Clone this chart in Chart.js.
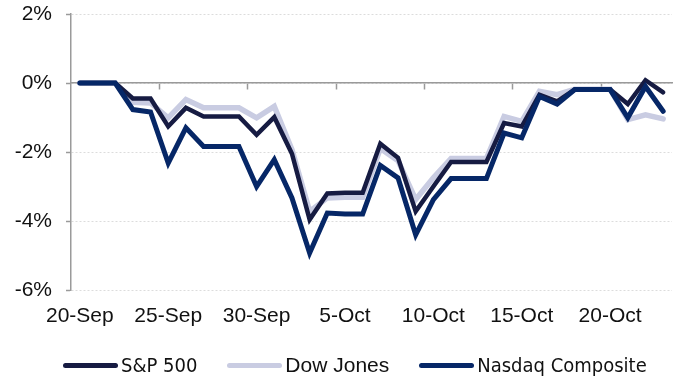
<!DOCTYPE html>
<html>
<head>
<meta charset="utf-8">
<script src="https://cdn.jsdelivr.net/npm/chart.js@4"></script>
<style>
  html, body { margin: 0; padding: 0; background: #fff; }
  #wrap { position: relative; width: 680px; height: 378px; }
  #legend { position: absolute; left: 63px; top: 351px; height: 28px; display: flex; align-items: center; }
  .item { display: flex; align-items: center; }
  .swatch { width: 55px; height: 5px; border-radius: 3px; margin-right: 3px; }
  .narrow { font-family: "DejaVu Sans Condensed", "DejaVu Sans", sans-serif; font-size: 20px; color: #111; }
  .wide { font-family: "Liberation Sans", Arial, sans-serif; font-size: 21px; color: #111; }
</style>
</head>
<body>
<div id="wrap">
  <canvas id="chartIndices" width="680" height="378"></canvas>
  <div id="legend"></div>
</div>
<script>
  // daily closes, % change since 20-Sep
  const days = [
    '20-Sep', '21-Sep', '22-Sep', '23-Sep', '24-Sep', '25-Sep', '26-Sep', '27-Sep', '28-Sep', '29-Sep',
    '30-Sep', '1-Oct', '2-Oct', '3-Oct', '4-Oct', '5-Oct', '6-Oct', '7-Oct', '8-Oct', '9-Oct',
    '10-Oct', '11-Oct', '12-Oct', '13-Oct', '14-Oct', '15-Oct', '16-Oct', '17-Oct', '18-Oct', '19-Oct',
    '20-Oct', '21-Oct', '22-Oct', '23-Oct'
  ];

  const sp500 = [
    0, 0, 0, -0.45, -0.45, -1.26, -0.72, -0.97, -0.97, -0.97,
    -1.50, -0.99, -2.05, -3.96, -3.20, -3.18, -3.18, -1.76, -2.17, -3.72,
    -3.00, -2.29, -2.29, -2.29, -1.16, -1.26, -0.34, -0.53, -0.19, -0.19,
    -0.19, -0.61, 0.08, -0.27
  ];

  const dowJones = [
    0, 0, 0, -0.56, -0.58, -1.01, -0.48, -0.72, -0.72, -0.72,
    -1.01, -0.68, -1.93, -3.72, -3.33, -3.31, -3.31, -1.90, -2.25, -3.38,
    -2.75, -2.19, -2.19, -2.19, -0.97, -1.11, -0.24, -0.34, -0.18, -0.18,
    -0.18, -1.06, -0.92, -1.04
  ];

  const nasdaq = [
    0, 0, 0, -0.77, -0.84, -2.32, -1.30, -1.84, -1.84, -1.84,
    -3.00, -2.22, -3.33, -4.93, -3.77, -3.80, -3.80, -2.39, -2.75, -4.40,
    -3.38, -2.77, -2.77, -2.77, -1.45, -1.59, -0.39, -0.61, -0.19, -0.19,
    -0.19, -1.01, -0.10, -0.82
  ];

  const yTicks = [2, 0, -2, -4, -6];

  const series = [
    { label: 'S&P 500', data: sp500, color: '#161b42', width: 4.5, order: 1, font: 'narrow' },
    { label: 'Dow Jones', data: dowJones, color: '#c9cce2', width: 5.5, order: 2, font: 'wide' },
    { label: 'Nasdaq Composite', data: nasdaq, color: '#062767', width: 5, order: 0, font: 'narrow' }
  ];

  Chart.defaults.font.family = '"Liberation Sans", Arial, sans-serif';
  Chart.defaults.font.size = 21;
  Chart.defaults.color = '#111';

  function buildLegend() {
    const box = document.getElementById('legend');
    series.forEach((s, i) => {
      const item = document.createElement('div');
      item.className = 'item';
      if (i > 0) item.style.marginLeft = '30px';
      item.innerHTML = `<div class="swatch" style="background:${s.color}"></div><span class="${s.font}">${s.label}</span>`;
      box.appendChild(item);
    });
  }

  function renderChart() {
    const canvas = document.getElementById('chartIndices');

    new Chart(canvas.getContext('2d'), {
      type: 'line',
      data: {
        labels: days,
        datasets: series.map(s => ({
          label: s.label,
          data: s.data,
          borderColor: s.color,
          backgroundColor: s.color,
          borderWidth: s.width,
          borderCapStyle: 'round',
          borderJoinStyle: 'miter',
          pointRadius: 0,
          tension: 0,
          order: s.order
        }))
      },
      options: {
        responsive: false,
        animation: false,
        devicePixelRatio: 1,
        layout: { padding: { top: 14, right: 8, left: 0, bottom: 0 } },
        plugins: { legend: { display: false }, tooltip: { enabled: false } },
        scales: {
          x: {
            type: 'category',
            offset: true,
            grid: { display: false, drawTicks: false },
            border: { display: false },
            ticks: {
              autoSkip: false,
              maxRotation: 0,
              padding: 14,
              callback: (v, i) => (i % 5 === 0 ? days[i] : '')
            },
            afterFit: (scale) => { scale.height = 88; }
          },
          // axis line through 0% with a tick every five days
          xZero: {
            type: 'category',
            position: { y: 0 },
            offset: true,
            ticks: { display: false },
            grid: {
              offset: true,
              drawOnChartArea: false,
              drawTicks: true,
              tickLength: 6,
              tickWidth: 1.5,
              tickColor: (ctx) => (ctx.index > 0 && ctx.index < days.length && ctx.index % 5 === 0 ? '#9a9a9a' : 'rgba(0,0,0,0)')
            },
            border: { color: '#9a9a9a', width: 1.5 }
          },
          y: {
            min: -6,
            max: 2,
            afterBuildTicks: (scale) => { scale.ticks = yTicks.map(v => ({ value: v })); },
            ticks: {
              padding: 14,
              callback: (v) => v + '%'
            },
            grid: {
              color: '#dcdcdc',
              lineWidth: 1,
              tickLength: 5,
              tickWidth: 1.5,
              tickColor: '#9a9a9a',
              tickBorderDash: []
            },
            border: { color: '#9a9a9a', width: 1.5, dash: [2, 2] },
            afterFit: (scale) => {
              scale.width = 71;
              scale.paddingTop = 0;
              scale.paddingBottom = 0;
            }
          }
        }
      }
    });
  }

  window.addEventListener('DOMContentLoaded', () => {
    buildLegend();
    renderChart();
  });
</script>
</body>
</html>
